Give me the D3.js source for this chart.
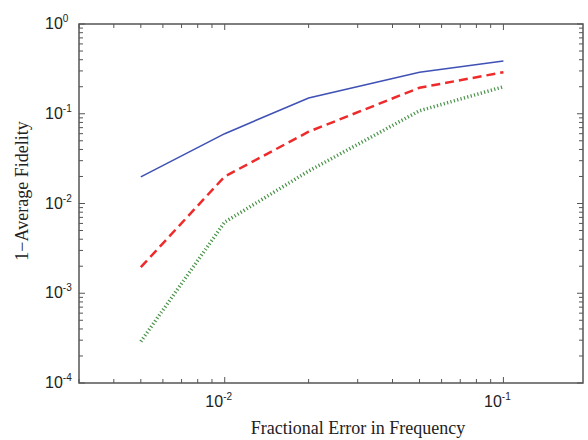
<!DOCTYPE html>
<html><head><meta charset="utf-8">
<script src="https://cdn.jsdelivr.net/npm/d3@7"></script>
<style>body{margin:0;background:#fff}svg{display:block}</style>
</head><body>
<svg id="c" width="588" height="440"></svg>
<script>
const xValues = [0.005, 0.01, 0.02, 0.05, 0.1];
const blueSeries = [0.0198, 0.06, 0.15, 0.29, 0.387];
const redSeries = [0.00195, 0.02, 0.063, 0.195, 0.29];
const greenSeries = [0.00029, 0.0062, 0.023, 0.108, 0.2];
const xTickExps = [-2, -1];
const yTickExps = [0, -1, -2, -3, -4];
const xLabel = "Fractional Error in Frequency";
const yLabel = "1\u2212Average Fidelity";

const svg = d3.select("#c");
const L = 79, R = 583, T = 24, B = 383;
const x = d3.scaleLog().domain([0.003, 0.193]).range([L, R]);
const y = d3.scaleLog().domain([1e-4, 1]).range([B, T]);
const axisColor = "#555";

const xTicks = [];
for (let e = -3; e <= -1; e++) for (let m = 1; m <= 9; m++) {
  const v = m * Math.pow(10, e);
  if (v >= 0.003 && v <= 0.193) xTicks.push({v, major: m === 1});
}
const yTicks = [];
for (let e = -4; e <= 0; e++) for (let m = 1; m <= 9; m++) {
  const v = m * Math.pow(10, e);
  if (v >= 1e-4 && v <= 1) yTicks.push({v, major: m === 1});
}
const g = svg.append("g").attr("stroke", axisColor).attr("stroke-width", 1);
xTicks.forEach(t => {
  const px = x(t.v), len = t.major ? 6 : 4;
  g.append("line").attr("x1", px).attr("x2", px).attr("y1", B).attr("y2", B - len);
  g.append("line").attr("x1", px).attr("x2", px).attr("y1", T).attr("y2", T + len);
});
yTicks.forEach(t => {
  const py = y(t.v), len = t.major ? 6 : 4;
  g.append("line").attr("x1", L).attr("x2", L + len).attr("y1", py).attr("y2", py);
  g.append("line").attr("x1", R).attr("x2", R - len).attr("y1", py).attr("y2", py);
});
g.append("rect").attr("x", L).attr("y", T).attr("width", R - L).attr("height", B - T)
  .attr("fill", "none").attr("stroke-width", 1.5);

const font = "Liberation Sans, Arial, sans-serif";
xTickExps.forEach(e => {
  const t = svg.append("text").attr("x", x(Math.pow(10, e)) - 6).attr("y", 407)
    .attr("text-anchor", "middle").attr("font-family", font).attr("font-size", 16).attr("fill", "#222");
  t.append("tspan").text("10");
  t.append("tspan").attr("dy", -7).attr("font-size", 10).text(String(e));
});
yTickExps.forEach(e => {
  const t = svg.append("text").attr("x", 45).attr("y", y(Math.pow(10, e)) + 5)
    .attr("font-family", font).attr("font-size", 16).attr("fill", "#222");
  t.append("tspan").text("10");
  t.append("tspan").attr("dy", -7).attr("font-size", 10).text(String(e));
});

svg.append("text").attr("x", 358).attr("y", 434).attr("text-anchor", "middle")
  .attr("font-family", "Liberation Serif, Times New Roman, serif").attr("font-size", 18)
  .attr("fill", "#222").text(xLabel);
svg.append("text").attr("transform", "translate(28,191) rotate(-90)").attr("text-anchor", "middle")
  .attr("font-family", "Liberation Serif, Times New Roman, serif").attr("font-size", 18)
  .attr("fill", "#222").text(yLabel);

const line = d3.line().x(d => x(d[0])).y(d => y(d[1]));
const series = [
  {data: blueSeries, color: "#3f51b5", w: 1.6, dash: null},
  {data: redSeries, color: "#ee2a2a", w: 2.5, dash: "9,5"},
  {data: greenSeries, color: "#4a944a", w: 3.5, dash: "1.2,2.3"}
];
series.forEach(s => {
  svg.append("path").datum(xValues.map((v, i) => [v, s.data[i]]))
    .attr("d", line).attr("fill", "none").attr("stroke", s.color)
    .attr("stroke-width", s.w).attr("stroke-dasharray", s.dash);
});
</script>
</body></html>
